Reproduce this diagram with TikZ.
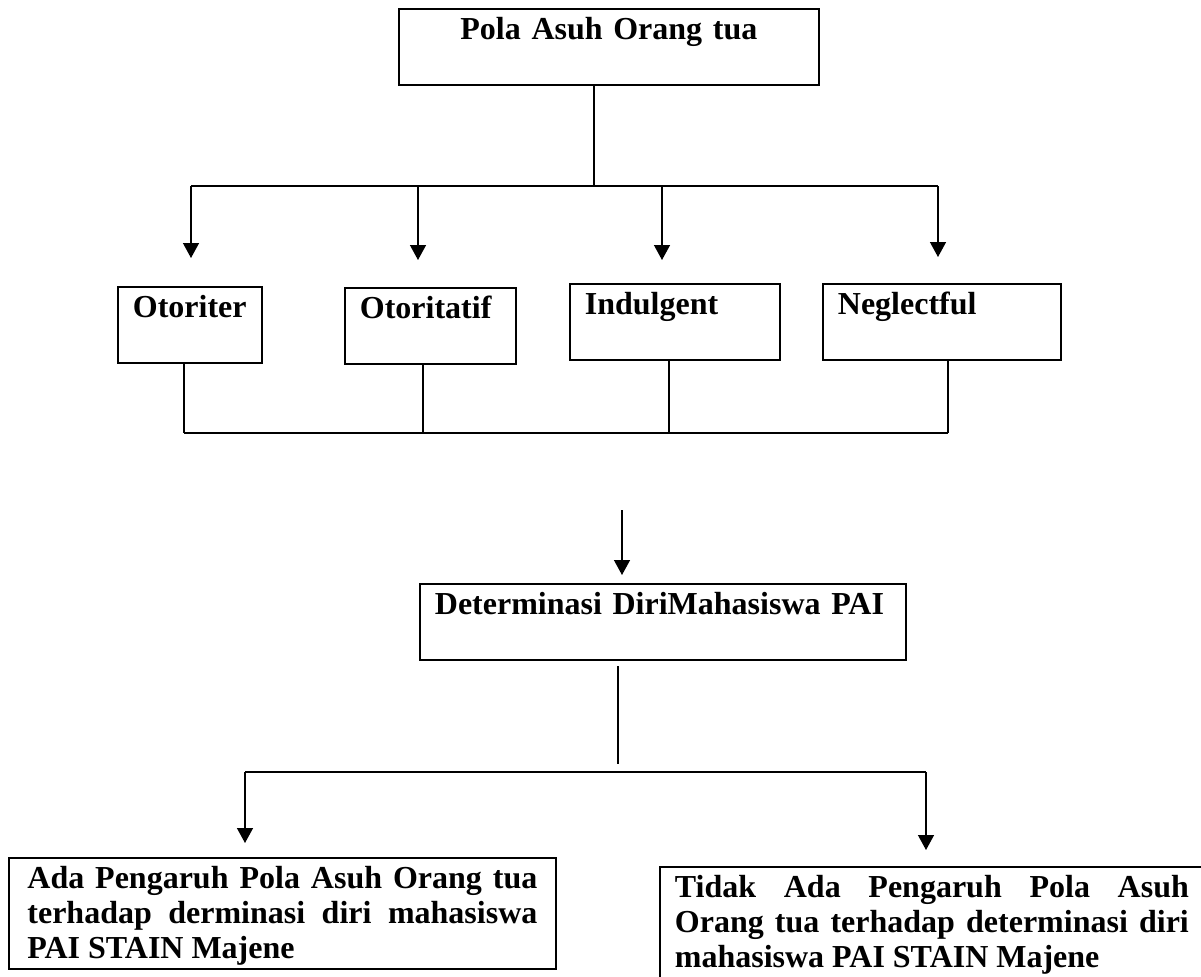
\documentclass[tikz,border=0pt]{standalone}
\usepackage{fontspec}
\setmainfont{Liberation Serif}
\usetikzlibrary{arrows.meta}

\tikzset{
	kotak/.style={draw, line width=0.9pt, anchor=north west, inner xsep=7.5pt, inner ysep=0pt,
		align=left, text width=#1, text height=15.5pt, text depth=22.5pt},
	hasil/.style={draw, line width=0.9pt, anchor=north west, inner xsep=7.5pt, inner ysep=0pt,
		align=justify, text width=#1},
	garis/.style={line width=0.7pt},
	panah/.style={garis, -{Triangle[length=7.5pt,width=8pt]}}
}
\newcommand{\atas}{\rule{0pt}{15.5pt}}
\newcommand{\bawah}{\rule[-5pt]{0pt}{5pt}}

\begin{document}
\begin{tikzpicture}[x=0.5pt,y=-0.5pt,font=\fontsize{16}{17.5}\selectfont\bfseries]
	\useasboundingbox (0,0) rectangle (1201,976);
	\clip (0,0) rectangle (1201,976);

	% Kotak utama
	\node[kotak=195pt, align=center] (pola) at (398,8) {Pola Asuh Orang tua};

	% Empat tipe pola asuh
	\node[kotak=57pt]   (otoriter)   at (117,286) {Otoriter};
	\node[kotak=70.5pt] (otoritatif) at (344,287) {Otoritatif};
	\node[kotak=90pt]   (indulgent)  at (569,283) {Indulgent};
	\node[kotak=104pt]  (neglectful) at (822,283) {Neglectful};

	% Determinasi diri
	\node[kotak=228pt] (det) at (419,583) {Determinasi DiriMahasiswa PAI};

	% Dua kemungkinan hasil
	\node[hasil=255pt, inner xsep=9.25pt] (ada) at (8,857)
		{\atas Ada Pengaruh Pola Asuh Orang tua\linebreak terhadap derminasi diri mahasiswa\linebreak PAI STAIN Majene\bawah};
	\node[hasil=257pt] (tidak) at (659,866)
		{\atas Tidak Ada Pengaruh Pola Asuh\linebreak Orang tua terhadap determinasi diri\linebreak mahasiswa PAI STAIN Majene\bawah};

	% Cabang atas
	\coordinate (jt) at (594,186);
	\foreach \n/\x/\y in {1/191/258, 2/418/260, 3/662/260, 4/938/257} {
		\coordinate (a\n) at (\x,186);
		\coordinate (u\n) at (\x,\y);
	}
	\draw[garis] (pola.south -| jt) -- (jt);
	\draw[garis] (a1) -- (a4);
	\foreach \n in {1,...,4}
		\draw[panah] (a\n) -- (u\n);

	% Garis penghubung bawah tipe
	\coordinate (b1) at (184,433);
	\coordinate (b2) at (423,433);
	\coordinate (b3) at (669,433);
	\coordinate (b4) at (948,433);
	\draw[garis] (otoriter.south -| b1) -- (b1);
	\draw[garis] (otoritatif.south -| b2) -- (b2);
	\draw[garis] (indulgent.south -| b3) -- (b3);
	\draw[garis] (neglectful.south -| b4) -- (b4);
	\draw[garis] (b1) -- (b4);

	% Panah ke determinasi
	\coordinate (c0) at (622,510);
	\coordinate (c1) at (622,575);
	\draw[panah] (c0) -- (c1);

	% Cabang bawah
	\coordinate (d1) at (618,666);
	\coordinate (d2) at (618,764);
	\coordinate (e1) at (245,772);
	\coordinate (e2) at (926,772);
	\draw[garis] (d1) -- (d2);
	\draw[garis] (e1) -- (e2);
	\draw[panah] (e1) -- (e1 |- 0,843);
	\draw[panah] (e2) -- (e2 |- 0,850);
\end{tikzpicture}
\end{document}
